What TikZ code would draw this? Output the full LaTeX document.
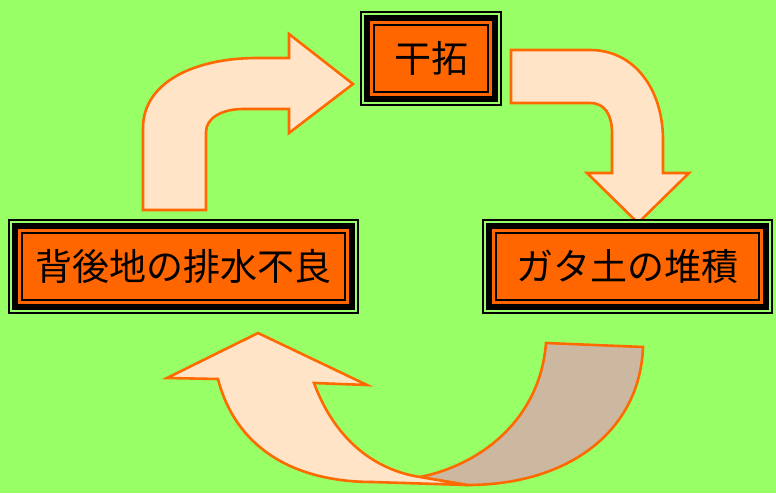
\documentclass[tikz,border=0pt]{standalone}
\usepackage{fontspec}
\usepackage{xcolor}
\newfontfamily\jpfont{Noto Sans CJK JP}
\definecolor{bggreen}{HTML}{99FF66}
\definecolor{boxorange}{HTML}{FF6600}
\definecolor{arrowline}{HTML}{FF6A00}
\definecolor{arrowfill}{HTML}{FFE4C8}
\definecolor{arrowbrown}{HTML}{CCB8A0}

\begin{document}
\begin{tikzpicture}[x=1pt, y=-1pt,
    framebox/.style={rectangle, draw=black, line width=2pt, fill=boxorange,
        inner sep=0pt, outer sep=0pt, minimum height=67pt,
        preaction={draw=black, line width=28pt},
        preaction={draw=bggreen, line width=24pt},
        preaction={draw=black, line width=20pt},
        preaction={draw=boxorange, line width=8pt},
        font=\jpfont\fontsize{37}{37}\selectfont},
    bigarrow/.style={draw=arrowline, line width=2.6pt, fill=arrowfill}]
    % Background
    \fill [bggreen] (0,0) rectangle (776,493);

    % Arrows
    \draw [bigarrow] (143,210) -- (143,128) .. controls (143,82) and (195,58)
        .. (257,58) -- (289,58) -- (289,34) -- (353,84) -- (289,133) --
        (289,109) -- (243,109) .. controls (222,109) and (206,118) ..
        (206,132) -- (206,210) -- cycle;
    \draw [bigarrow] (511,50) -- (590,50) .. controls (635,50) and (663,90)
        .. (663,140) -- (663,173) -- (689,173) -- (638,223) -- (587,173) --
        (612,173) -- (612,133) .. controls (612,115) and (605,103) ..
        (590,103) -- (511,103) -- cycle;
    \draw [bigarrow, fill=arrowbrown] (546,343) -- (643,347) .. controls
        (640,430) and (570,485) .. (467,485) -- (420,477) .. controls
        (480,465) and (540,420) .. (546,343) -- cycle;
    \draw [bigarrow] (218,379) -- (167,378) -- (258,333) -- (367,385) --
        (314,383) .. controls (335,440) and (375,470) .. (420,477) --
        (467,485) -- (373,482) .. controls (290,482) and (235,445) ..
        (218,379) -- cycle;

    % Nodes
    \node (gantaku) [framebox, minimum width=114pt] at (431,58.5) {干拓};
    \node (haisui) [framebox, minimum width=323pt] at (183.5,266.5)
        {背後地の排水不良};
    \node (taiseki) [framebox, minimum width=263pt] at (627.5,266.5)
        {ガタ土の堆積};
\end{tikzpicture}
\end{document}
